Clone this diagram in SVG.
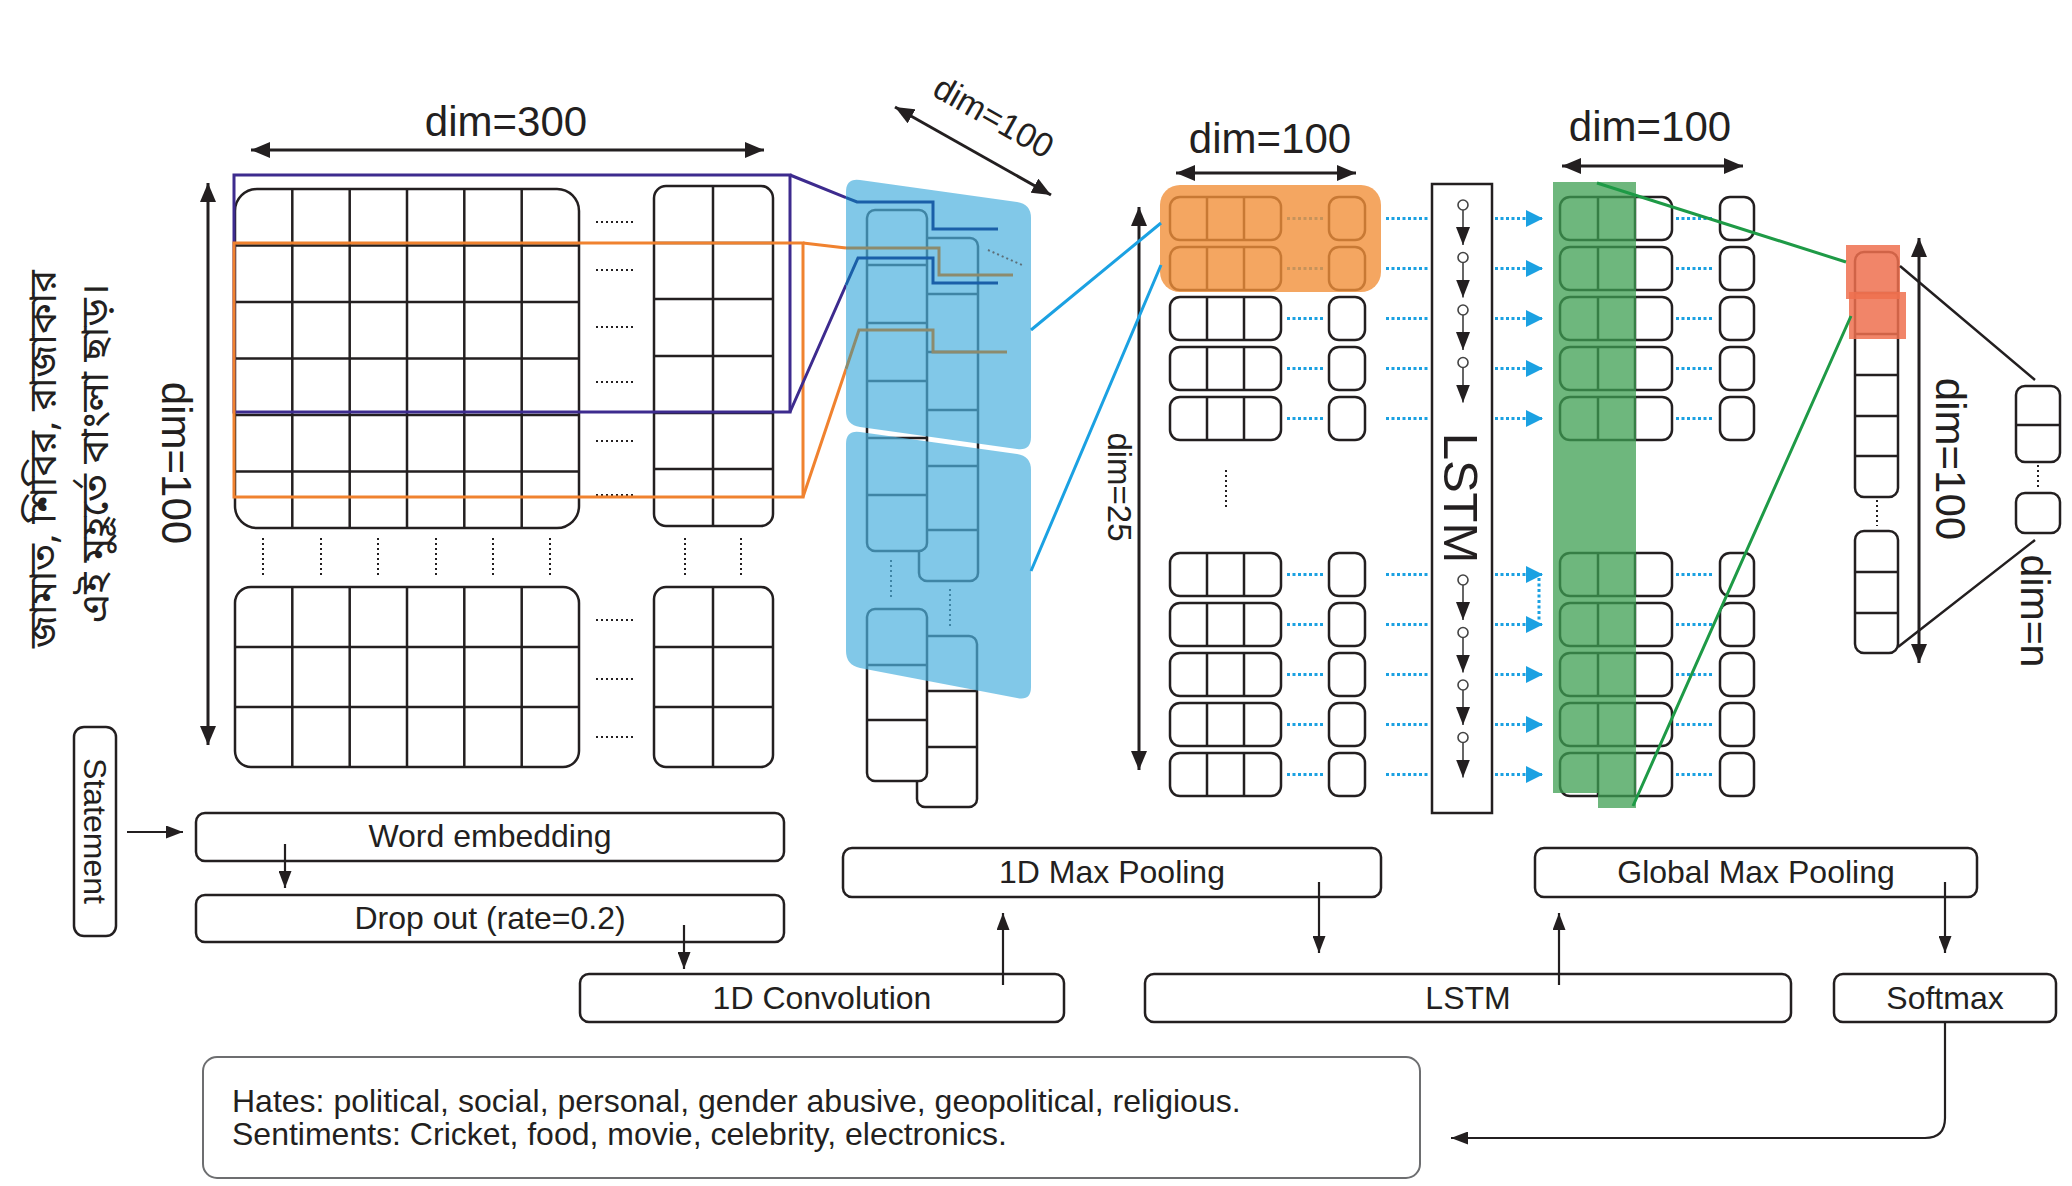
<svg xmlns="http://www.w3.org/2000/svg" width="2072" height="1186" viewBox="0 0 2072 1186">
<defs>
<style>
.t{font-family:"Liberation Sans",Arial,Helvetica,sans-serif;fill:#231f20}
.bn{font-family:"Noto Sans Bengali","Lohit Bengali","Noto Sans","Liberation Sans",sans-serif;fill:#231f20}
.k{fill:none;stroke:#231f20;stroke-width:2.5}
.kw{fill:#fff;stroke:#231f20;stroke-width:2.5}
.dot{fill:none;stroke:#231f20;stroke-width:2;stroke-dasharray:2 3}
.cy{fill:none;stroke:#1ba1e2;stroke-width:3;stroke-dasharray:3 2.5}
.arr{fill:none;stroke:#231f20;stroke-width:2.2}
.dimarr{fill:none;stroke:#231f20;stroke-width:3}
.chain{fill:none;stroke:#555;stroke-width:1.8}
.circ{fill:#fff;stroke:#444;stroke-width:1.6}
</style>
<marker id="ah" viewBox="0 0 10 10" refX="10" refY="5" markerWidth="17" markerHeight="13" markerUnits="userSpaceOnUse" orient="auto" preserveAspectRatio="none"><path d="M0,0L10,5L0,10z" fill="#231f20"/></marker>
<marker id="ahL" viewBox="0 0 10 10" refX="10" refY="5" markerWidth="19" markerHeight="16" markerUnits="userSpaceOnUse" orient="auto-start-reverse" preserveAspectRatio="none"><path d="M0,0L10,5L0,10z" fill="#231f20"/></marker>
<marker id="ahS" viewBox="0 0 10 10" refX="10" refY="5" markerWidth="18" markerHeight="14" markerUnits="userSpaceOnUse" orient="auto" preserveAspectRatio="none"><path d="M0,0L10,5L0,10z" fill="#231f20"/></marker>
<marker id="ahC" viewBox="0 0 10 10" refX="10" refY="5" markerWidth="17" markerHeight="17" markerUnits="userSpaceOnUse" orient="auto" preserveAspectRatio="none"><path d="M0,0L10,5L0,10z" fill="#1ba1e2"/></marker>
<g id="mprow">
<rect class="k" x="1170" y="0" width="111" height="43" rx="10"/>
<path class="k" d="M1207,0V43M1244,0V43"/>
<rect class="k" x="1329" y="0" width="36" height="43" rx="10"/>
<path class="cy" d="M1287,21.5H1325M1386,21.5H1428"/>
</g>
<g id="gprow">
<rect class="k" x="1560" y="0" width="112" height="43" rx="10"/>
<path class="k" d="M1598,0V43M1635,0V43"/>
<rect class="k" x="1720" y="0" width="34" height="43" rx="10"/>
<path class="cy" d="M1676,21.5H1714"/>
</g>
</defs>
<rect width="2072" height="1186" fill="#fff"/>

<g id="input-text">
<text class="bn" font-size="38" textLength="378" lengthAdjust="spacingAndGlyphs" transform="translate(56,648) rotate(-90)">জামাত, শিবির, রাজাকার</text>
<text class="bn" font-size="38" textLength="340" lengthAdjust="spacingAndGlyphs" transform="translate(108,623) rotate(-90)">এই মুহূর্তে বাংলা ছাড়।</text>
</g>

<g id="embedding-matrix">
<text class="t" font-size="42" x="506" y="136" text-anchor="middle">dim=300</text>
<path class="dimarr" d="M251,150H764" marker-start="url(#ahL)" marker-end="url(#ahL)"/>
<path class="dimarr" d="M208,183V745" marker-start="url(#ahL)" marker-end="url(#ahL)"/>
<text class="t" font-size="42" text-anchor="middle" transform="translate(162,463) rotate(90)">dim=100</text>
<rect class="k" x="235" y="189" width="344" height="339" rx="22"/>
<path class="k" d="M292.3,189V528M349.7,189V528M407,189V528M464.3,189V528M521.7,189V528M235,245.5H579M235,302H579M235,358.5H579M235,415H579M235,471.5H579"/>
<rect class="k" x="654" y="186" width="119" height="340" rx="12"/>
<path class="k" d="M713,186V526M654,243H773M654,299H773M654,356H773M654,413H773M654,469H773"/>
<rect class="k" x="235" y="587" width="344" height="180" rx="16"/>
<path class="k" d="M292.3,587V767M349.7,587V767M407,587V767M464.3,587V767M521.7,587V767M235,647H579M235,707H579"/>
<rect class="k" x="654" y="587" width="119" height="180" rx="12"/>
<path class="k" d="M713,587V767M654,647H773M654,707H773"/>
<path class="dot" d="M596,222H635M596,270H635M596,327H635M596,382H635M596,441H635M596,495H635M596,620H635M596,679H635M596,737H635"/>
<path class="dot" d="M263,538V577M321,538V577M378,538V577M436,538V577M493,538V577M550,538V577M685,538V577M741,538V577"/>
<rect x="234" y="175" width="556" height="237" fill="none" stroke="#3d2b8e" stroke-width="3"/>
<rect x="234" y="243" width="569" height="254" fill="none" stroke="#f0822f" stroke-width="3"/>
</g>

<g id="conv-maps">
<text class="t" font-size="34" text-anchor="middle" transform="translate(988,127) rotate(29.4)">dim=100</text>
<path class="dimarr" d="M895,107L1051,195" marker-start="url(#ahL)" marker-end="url(#ahL)"/>
<rect class="k" x="919" y="238" width="59" height="343" rx="8"/>
<path class="k" d="M919,294H978M919,352H978M919,410H978M919,466H978M919,530H978"/>
<rect class="kw" x="867" y="210" width="60" height="341" rx="8"/>
<path class="k" d="M867,265H927M867,323H927M867,381H927M867,438H927M867,495H927"/>
<rect class="k" x="917" y="636" width="60" height="171" rx="8"/>
<path class="k" d="M917,691H977M917,747H977"/>
<rect class="kw" x="867" y="609" width="60" height="172" rx="8"/>
<path class="k" d="M867,665H927M867,720H927"/>
<path class="dot" d="M891,560V598M950,589V627"/>
<path d="M790,175L846,197.6M790,412L846,285" fill="none" stroke="#3d2b8e" stroke-width="3"/>
<path d="M803,243L846,248M803,497L846,369" fill="none" stroke="#f0822f" stroke-width="3"/>
<path d="M846,192Q846,178 860,180L1017,202Q1031,204 1031,218L1031,437Q1031,451 1017,449L860,427Q846,425 846,411Z" fill="#4cb0de" fill-opacity="0.7"/>
<path d="M846,444Q846,430 860,432L1017,454Q1031,456 1031,470L1031,687Q1031,701 1017,698L860,668Q846,665 846,651Z" fill="#4cb0de" fill-opacity="0.7"/>
<path d="M846,197.6L857,202H933V229H998M846,285L858,258H933V283H998" fill="none" stroke="#1a5fa8" stroke-width="3"/>
<path d="M846,248H939V275H1013M846,369L859,330H933V352H1007" fill="none" stroke="#8c8b6e" stroke-width="3"/>
<path d="M988,250L1022,265" fill="none" stroke="#5c6f78" stroke-width="2" stroke-dasharray="2 3"/>
</g>

<g id="maxpool-output">
<text class="t" font-size="42" x="1270" y="153" text-anchor="middle">dim=100</text>
<path class="dimarr" d="M1176,173H1356" marker-start="url(#ahL)" marker-end="url(#ahL)"/>
<path class="dimarr" d="M1139,207V770" marker-start="url(#ahL)" marker-end="url(#ahL)"/>
<text class="t" font-size="33" text-anchor="middle" transform="translate(1108,487) rotate(90)">dim=25</text>
<use href="#mprow" y="197"/>
<use href="#mprow" y="247"/>
<use href="#mprow" y="297"/>
<use href="#mprow" y="347"/>
<use href="#mprow" y="397"/>
<use href="#mprow" y="553"/>
<use href="#mprow" y="603"/>
<use href="#mprow" y="653"/>
<use href="#mprow" y="703"/>
<use href="#mprow" y="753"/>
<path class="dot" d="M1226,470V507"/>
<rect x="1160" y="185" width="221" height="107" rx="20" fill="#f19039" fill-opacity="0.8"/>
</g>

<g id="lstm-layer">
<rect class="k" x="1432" y="184" width="60" height="629"/>
<text class="t" font-size="49" text-anchor="middle" transform="translate(1444,498) rotate(90)">LSTM</text>
<path class="chain" d="M1463,209.5V245" marker-end="url(#ahS)"/>
<path class="chain" d="M1463,262V297.5" marker-end="url(#ahS)"/>
<path class="chain" d="M1463,314.5V350" marker-end="url(#ahS)"/>
<path class="chain" d="M1463,367V402.5" marker-end="url(#ahS)"/>
<path class="chain" d="M1463,584.5V620" marker-end="url(#ahS)"/>
<path class="chain" d="M1463,637V672.5" marker-end="url(#ahS)"/>
<path class="chain" d="M1463,689.5V725" marker-end="url(#ahS)"/>
<path class="chain" d="M1463,742V777.5" marker-end="url(#ahS)"/>
<circle class="circ" cx="1463" cy="205" r="5"/>
<circle class="circ" cx="1463" cy="257.5" r="5"/>
<circle class="circ" cx="1463" cy="310" r="5"/>
<circle class="circ" cx="1463" cy="362.5" r="5"/>
<circle class="circ" cx="1463" cy="580" r="5"/>
<circle class="circ" cx="1463" cy="632.5" r="5"/>
<circle class="circ" cx="1463" cy="685" r="5"/>
<circle class="circ" cx="1463" cy="737.5" r="5"/>
</g>

<g id="global-input">
<text class="t" font-size="42" x="1650" y="141" text-anchor="middle">dim=100</text>
<path class="dimarr" d="M1562,166H1743" marker-start="url(#ahL)" marker-end="url(#ahL)"/>
<use href="#gprow" y="197"/>
<use href="#gprow" y="247"/>
<use href="#gprow" y="297"/>
<use href="#gprow" y="347"/>
<use href="#gprow" y="397"/>
<use href="#gprow" y="553"/>
<use href="#gprow" y="603"/>
<use href="#gprow" y="653"/>
<use href="#gprow" y="703"/>
<use href="#gprow" y="753"/>
<rect x="1553" y="182" width="45" height="611" fill="#3d9f51" fill-opacity="0.75"/>
<rect x="1598" y="182" width="38" height="626" fill="#3d9f51" fill-opacity="0.75"/>
</g>

<g id="pooled-vector">
<rect class="k" x="1855" y="252" width="43" height="245" rx="9"/>
<path class="k" d="M1855,293H1898M1855,334H1898M1855,375H1898M1855,416H1898M1855,456H1898"/>
<path class="dot" d="M1877,500V526"/>
<rect class="k" x="1855" y="531" width="43" height="122" rx="9"/>
<path class="k" d="M1855,572H1898M1855,613H1898"/>
<rect x="1846" y="245" width="54" height="54" fill="#ee704f" fill-opacity="0.85"/>
<rect x="1849" y="292" width="57" height="47" fill="#ee704f" fill-opacity="0.85"/>
<path class="dimarr" d="M1919,238V663" marker-start="url(#ahL)" marker-end="url(#ahL)"/>
<text class="t" font-size="42" text-anchor="middle" transform="translate(1936,459) rotate(90)">dim=100</text>
</g>

<g id="softmax-output">
<rect class="k" x="2016" y="386" width="44" height="76" rx="9"/>
<path class="k" d="M2016,425H2060"/>
<path class="dot" d="M2038,465V490"/>
<rect class="k" x="2016" y="493" width="44" height="40" rx="9"/>
<text class="t" font-size="41" text-anchor="middle" transform="translate(2021,611) rotate(90)">dim=n</text>
</g>

<g id="statement">
<rect class="kw" x="74" y="727" width="42" height="209" rx="10"/>
<text class="t" font-size="32" text-anchor="middle" transform="translate(84,831) rotate(90)">Statement</text>
</g>
<g id="word-embedding">
<rect class="kw" x="196" y="813" width="588" height="48" rx="9"/>
<text class="t" font-size="32" x="490" y="847" text-anchor="middle">Word embedding</text>
</g>
<g id="dropout">
<rect class="kw" x="196" y="895" width="588" height="47" rx="9"/>
<text class="t" font-size="32" x="490" y="929" text-anchor="middle">Drop out (rate=0.2)</text>
</g>
<g id="conv1d">
<rect class="kw" x="580" y="974" width="484" height="48" rx="9"/>
<text class="t" font-size="32" x="822" y="1009" text-anchor="middle">1D Convolution</text>
</g>
<g id="maxpool1d">
<rect class="kw" x="843" y="848" width="538" height="49" rx="9"/>
<text class="t" font-size="32" x="1112" y="883" text-anchor="middle">1D Max Pooling</text>
</g>
<g id="lstm">
<rect class="kw" x="1145" y="974" width="646" height="48" rx="9"/>
<text class="t" font-size="32" x="1468" y="1009" text-anchor="middle">LSTM</text>
</g>
<g id="globalpool">
<rect class="kw" x="1535" y="848" width="442" height="49" rx="9"/>
<text class="t" font-size="32" x="1756" y="883" text-anchor="middle">Global Max Pooling</text>
</g>
<g id="softmax">
<rect class="kw" x="1834" y="974" width="222" height="48" rx="9"/>
<text class="t" font-size="32" x="1945" y="1009" text-anchor="middle">Softmax</text>
</g>
<g id="result">
<rect x="203" y="1057" width="1217" height="121" rx="14" fill="#fff" stroke="#6d6e70" stroke-width="2"/>
<text class="t" font-size="32" x="232" y="1112">Hates: political, social, personal, gender abusive, geopolitical, religious.</text>
<text class="t" font-size="32" x="232" y="1145">Sentiments: Cricket, food, movie, celebrity, electronics.</text>
</g>

<g id="connectors">
<path d="M1031,330L1161,223M1031,571L1161,265" fill="none" stroke="#1ba1e2" stroke-width="3"/>
<path class="cy" d="M1495,218.5H1543" marker-end="url(#ahC)"/>
<path class="cy" d="M1495,268.5H1543" marker-end="url(#ahC)"/>
<path class="cy" d="M1495,318.5H1543" marker-end="url(#ahC)"/>
<path class="cy" d="M1495,368.5H1543" marker-end="url(#ahC)"/>
<path class="cy" d="M1495,418.5H1543" marker-end="url(#ahC)"/>
<path class="cy" d="M1495,574.5H1543" marker-end="url(#ahC)"/>
<path class="cy" d="M1495,624.5H1543" marker-end="url(#ahC)"/>
<path class="cy" d="M1495,674.5H1543" marker-end="url(#ahC)"/>
<path class="cy" d="M1495,724.5H1543" marker-end="url(#ahC)"/>
<path class="cy" d="M1495,774.5H1543" marker-end="url(#ahC)"/>
<path class="cy" d="M1539,578V620"/>
<path d="M1597,183L1846,262M1851,316L1633,806" fill="none" stroke="#1e9a46" stroke-width="3"/>
<path d="M1900,266L2035,380M1898,647L2035,540" fill="none" stroke="#231f20" stroke-width="2.5"/>
<path class="arr" d="M127,832H183" marker-end="url(#ah)"/>
<path class="arr" d="M285,844V888" marker-end="url(#ah)"/>
<path class="arr" d="M684,925V969" marker-end="url(#ah)"/>
<path class="arr" d="M1003,985V913" marker-end="url(#ah)"/>
<path class="arr" d="M1319,882V953" marker-end="url(#ah)"/>
<path class="arr" d="M1559,985V913" marker-end="url(#ah)"/>
<path class="arr" d="M1945,882V953" marker-end="url(#ah)"/>
<path class="arr" d="M1945,1022V1118Q1945,1138 1925,1138H1451" marker-end="url(#ah)"/>
</g>
</svg>
